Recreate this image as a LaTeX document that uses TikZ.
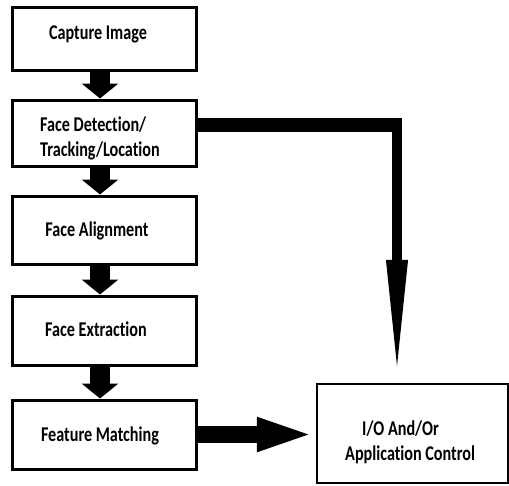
\documentclass[tikz,border=0pt]{standalone}
\usepackage{fontspec}
\setmainfont{Carlito}[FakeStretch=0.77, Ligatures=NoCommon]
\usetikzlibrary{arrows.meta}
\begin{document}
\begin{tikzpicture}[x=1pt,y=-1pt,
  box/.style={draw, line width=3pt, minimum width=184pt, inner sep=0pt},
  iobox/.style={draw, line width=2.5pt, minimum width=191pt, minimum height=99pt, inner sep=0pt},
  lbl/.style={font=\fontsize{21}{25}\selectfont\bfseries, inner sep=0pt},
  blockarrow/.style={line width=20pt, -{Triangle[width=36pt,length=15pt]}},
]
\useasboundingbox (0,0) rectangle (509,485);
% boxes
\node[box, minimum height=63pt] (b1) at (104,38.5) {};
\node[box, minimum height=66pt] (b2) at (104,133) {};
\node[box, minimum height=68pt] (b3) at (104,230) {};
\node[box, minimum height=69pt] (b4) at (104,330.5) {};
\node[box, minimum height=69pt] (b5) at (104,434.5) {};
\node[iobox] (io) at (412.5,433.5) {};
% labels
\node[lbl] (t1) at (98,34) {Capture Image};
\node[lbl, align=left, anchor=west] (t2) at (40,138) {Face Detection/\\Tracking/Location};
\node[lbl] (t3) at (97,231) {Face Alignment};
\node[lbl] (t4) at (96,329) {Face Extraction};
\node[lbl] (t5) at (100,436) {Feature Matching};
\node[lbl, align=left, anchor=west] (t6) at (345,442) {\hspace*{17pt}I/O And/Or\\Application Control};
% down arrows
\draw[blockarrow] ([xshift=-4pt]b1.south) -- ([xshift=-4pt]b2.north);
\draw[blockarrow] ([xshift=-4pt]b2.south) -- ([xshift=-4pt]b3.north);
\draw[blockarrow] ([xshift=-4pt]b3.south) -- ([xshift=-4pt]b4.north);
\draw[blockarrow] ([xshift=-4pt]b4.south) -- ([xshift=-4pt]b5.north);
% right connector
\coordinate (c1) at (402,125);
\coordinate (c2) at (397,118);
\draw[line width=14pt] (b2.east |- c1) -- (c1);
\draw[line width=10pt, -{Triangle[width=19pt,length=123pt]}] (c2) -- (c2 |- io.north);
% bottom connector
\draw[line width=17pt, -{Triangle[width=30pt,length=59pt]}] (b5.east) -- (b5.east -| io.west);
\end{tikzpicture}
\end{document}
